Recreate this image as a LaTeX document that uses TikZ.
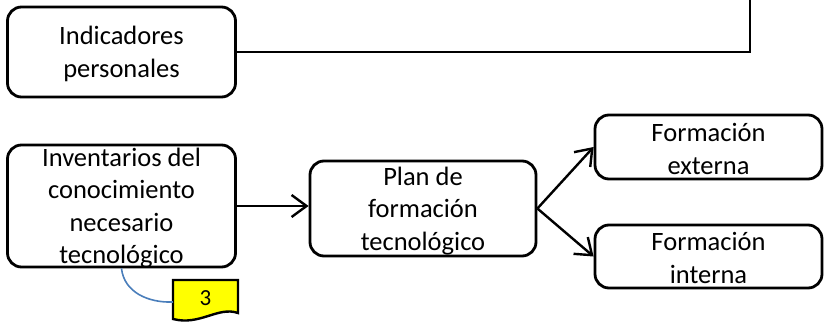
\documentclass[tikz,border=0pt]{standalone}
\usepackage{fontspec}
\setmainfont{Carlito}
\usetikzlibrary{arrows.meta}
\definecolor{notefill}{RGB}{255,255,0}
\definecolor{linkblue}{RGB}{74,126,187}
\begin{document}
\begin{tikzpicture}[x=1pt,y=-1pt,
  box/.style={draw=black, line width=2.8pt, rounded corners=14pt, inner sep=0pt},
  txt/.style={align=center, inner sep=0pt, font=\fontsize{26.5}{32.5}\selectfont},
  conn/.style={draw=black, line width=2.4pt},
  arr/.style={conn, -{Straight Barb[length=15pt,width=22pt,line width=2.4pt]}},
]
\useasboundingbox (0,0) rectangle (827,324);
% boxes
\node[box, minimum width=228pt, minimum height=90pt] (ind) at (121.5,52) {};
\node[txt] (indt) at (121.5,54) {Indicadores\\personales};
\node[box, minimum width=228pt, minimum height=122pt] (inv) at (121.5,206) {};
\node[txt] (invt) at (121.5,208) {Inventarios del\\conocimiento\\necesario\\tecnológico};
\node[box, minimum width=226pt, minimum height=95pt] (plan) at (423,208.5) {};
\node[txt] (plant) at (423,211) {Plan de\\formación\\tecnológico};
\node[box, minimum width=227pt, minimum height=64pt] (ext) at (708.5,147) {};
\node[txt] (extt) at (708.5,149) {Formación\\externa};
\node[box, minimum width=227pt, minimum height=63pt] (int) at (708.5,256.5) {};
\node[txt] (intt) at (708.5,258) {Formación\\interna};
% connectors
\coordinate (top) at (750,0);
\draw[conn] (ind.east) -| (top);
\draw[arr] (inv.east) -- (plan.west |- inv.east);
\draw[arr] (plan.east) -- (ext.west);
\draw[arr] (plan.east) -- (int.west);
% note
\draw[line width=2.4pt, fill=notefill] (173,280) coordinate (nA) -- (238,280) -- (238,313)
  .. controls (218,306) and (200,326) .. (173,319) -- cycle;
\node[inner sep=0pt, font=\fontsize{23}{26}\selectfont] (note) at (205.5,298) {3};
\coordinate (nl) at (173,302);
\draw[linkblue, line width=1.6pt] (inv.south) .. controls (124,292) and (148,303) .. (nl);
\end{tikzpicture}
\end{document}
